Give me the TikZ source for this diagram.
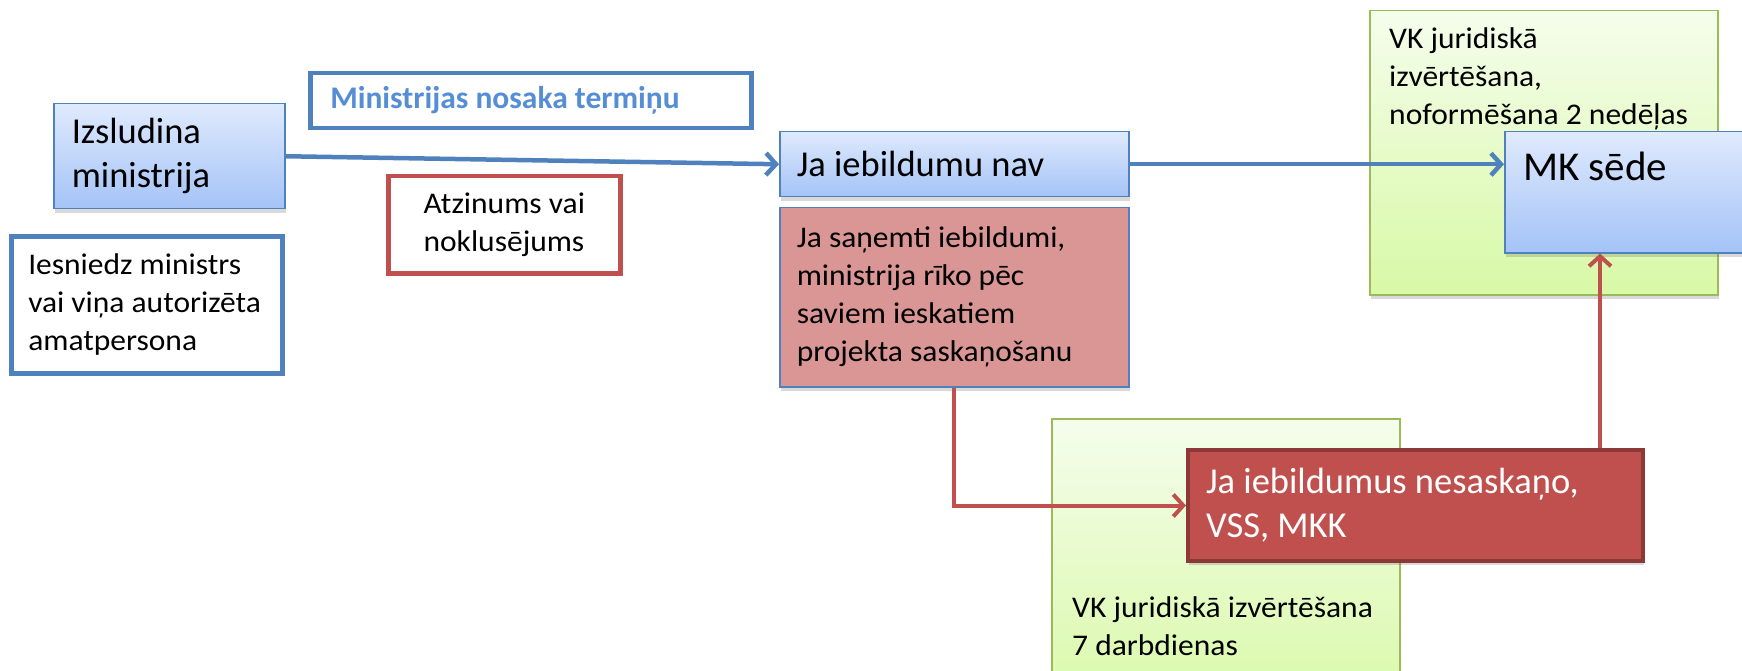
\documentclass[tikz,border=0pt]{standalone}
\usepackage{fontspec}
\setmainfont{Carlito}
\newfontfamily\midfont{Carlito}[FakeStretch=1.05]
\usetikzlibrary{positioning, calc, arrows.meta, shadows}

\definecolor{boxblue}{HTML}{4F81BD}
\definecolor{bluetop}{HTML}{DFEAFD}
\definecolor{bluebottom}{HTML}{A4C3F7}
\definecolor{textblue}{HTML}{558ED5}
\definecolor{boxred}{HTML}{C0504D}
\definecolor{darkred}{HTML}{8C3836}
\definecolor{pink}{HTML}{D99694}
\definecolor{greentop}{HTML}{F5FDEC}
\definecolor{greenbottom}{HTML}{D8F9A6}
\definecolor{greenline}{HTML}{9BBB59}

\newcommand{\fbig}{\fontsize{36.5}{44}\selectfont}
\newcommand{\fhuge}{\fontsize{41}{49}\selectfont}
\newcommand{\fmid}{\midfont\fontsize{30}{38}\selectfont}

\tikzset{
  softshadow/.style={drop shadow={shadow xshift=1pt, shadow yshift=-4pt, opacity=0.25, fill=black!60}},
  bluebox/.style={draw=boxblue, line width=1.5pt, top color=bluetop, bottom color=bluebottom, softshadow},
  whitebox/.style={draw=#1, line width=4.5pt, fill=white},
  greenbox/.style={draw=greenline, line width=1.5pt, top color=greentop, bottom color=greenbottom, softshadow},
  blueline/.style={draw=boxblue, line width=4.5pt, -{Straight Barb[length=10pt,width=22pt]}},
  redline/.style={draw=boxred, line width=4pt, -{Straight Barb[length=10pt,width=22pt]}},
}

\begin{document}
\begin{tikzpicture}[x=1pt,y=-1pt,
    every node/.style={anchor=north west, inner ysep=0pt, align=flush left}]
  \clip (0,0) rectangle (1742,671);

  % zalie fona lauki
  \node[greenbox, minimum width=348pt, minimum height=284pt,
    label={[anchor=north west, inner sep=0pt, font=\fmid, xshift=20pt, yshift=-17.5pt]north west:{VK juridiskā\\izvērtēšana,\\noformēšana 2 nedēļas}}]
    (vkaugsa) at (1369,10) {};
  \node[greenbox, minimum width=348pt, minimum height=300pt,
    label={[anchor=north west, inner sep=0pt, font=\fmid, xshift=21pt, yshift=-178.5pt]north west:{VK juridiskā izvērtēšana\\7 darbdienas}}]
    (vkapaksa) at (1051,418) {};

  % kreisa puse
  \node[bluebox, font=\fbig, minimum width=231pt, minimum height=105pt, inner xsep=18pt, text width=195pt]
    (izsludina) at (53,103) {Izsludina\\ministrija};
  \node[whitebox=boxblue, font=\fontsize{31.5}{38}\bfseries\selectfont, text=textblue, minimum width=441pt, minimum height=55pt, inner xsep=20pt, text width=401pt]
    (termins) at (308,71) {Ministrijas nosaka termiņu};
  \node[whitebox=boxblue, font=\fmid, minimum width=271pt, minimum height=137pt, inner xsep=17pt, text width=237pt]
    (iesniedz) at (9,234) {Iesniedz ministrs\\vai viņa autorizēta\\amatpersona};
  \node[whitebox=boxred, font=\fmid, minimum width=232pt, minimum height=97pt]
    (atzinums) at (386,174) {Atzinums vai\\noklusējums};

  % vidus
  \node[bluebox, font=\fbig, minimum width=349pt, minimum height=65pt, inner xsep=17pt, text width=315pt]
    (nav) at (779,131) {Ja iebildumu nav};
  \node[draw=boxblue, line width=1.5pt, fill=pink, softshadow, font=\fmid, minimum width=349pt, minimum height=179pt, inner xsep=17pt, text width=315pt]
    (sanemti) at (779,207) {Ja saņemti iebildumi,\\ministrija rīko pēc\\saviem ieskatiem\\projekta saskaņošanu};

  % laba puse
  \node[bluebox, minimum width=300pt, minimum height=121pt,
    label={[anchor=north west, inner sep=0pt, font=\fhuge, xshift=19pt, yshift=-21pt]north west:{MK sēde}}]
    (mksede) at (1504,131) {};
  \node[draw=darkred, line width=4pt, fill=boxred, softshadow, text=white, font=\fbig, minimum width=455pt, minimum height=111pt, inner xsep=18pt, text width=419pt]
    (nesaskano) at (1186,448) {Ja iebildumus nesaskaņo,\\VSS, MKK};

  % bultas
  \draw[blueline] (izsludina.east) -- (nav.west);
  \draw[blueline] (nav.east) -- (nav.east -| mksede.west);
  \draw[redline] (sanemti.south) |- (nesaskano.west);
  \coordinate (augsup) at ($(nesaskano.north west)!0.902!(nesaskano.north east)$);
  \draw[redline] (augsup) -- (augsup |- mksede.south);
\end{tikzpicture}
\end{document}
